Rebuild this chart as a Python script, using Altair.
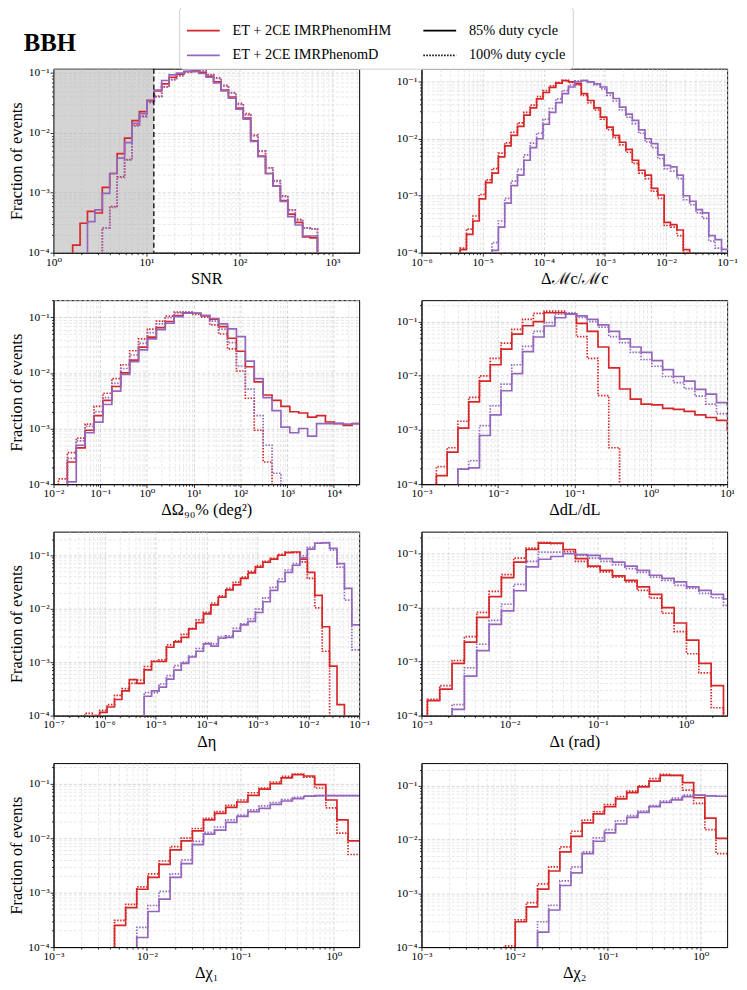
import altair as alt
import numpy as np
import pandas as pd

SERIF = "Liberation Serif, DejaVu Serif, serif"
RED = "#d62728"
PURPLE = "#9467bd"
HM = "ET + 2CE IMRPhenomHM"
PD = "ET + 2CE IMRPhenomD"
D85 = "85% duty cycle"
D100 = "100% duty cycle"
LEGEND_ENTRIES = [HM, PD, D85, D100]
LEGEND_COLORS = [RED, PURPLE, "black", "black"]
Y_MIN = 1e-4

# ---------------- SNR ----------------
SNR_LOG_EDGE0, SNR_LOG_BINW = 0.206, 0.0798
SNR_X = (1.0, 1940.0)
SNR_YMAX = 0.118
SNR_THRESHOLD = 12.0
SNR_HM_85 = [1.34e-4, 3.1e-4, 4.9e-4, 4.6e-4, 1.23e-3, 2.1e-3, 4.5e-3, 8.2e-3, 1.6e-2, 2.27e-2, 3.5e-2, 5.0e-2, 6.6e-2, 8.5e-2, 9.6e-2, 0.106, 0.109, 0.103, 0.088, 0.071, 0.052, 0.0397, 0.026, 0.0176, 0.0074, 0.0041, 0.0021, 0.0013, 7.4e-4, 4.4e-4, 3.2e-4, 1.84e-4, 1.77e-4]
SNR_HM_100 = [0, 0, 0, 0, 2.6e-4, 5.9e-4, 1.85e-3, 3.6e-3, 1.35e-2, 1.9e-2, 3.3e-2, 4.1e-2, 5.9e-2, 7.8e-2, 9.0e-2, 0.102, 0.112, 0.11, 0.094, 0.083, 0.062, 0.047, 0.031, 0.021, 9.2e-3, 5.0e-3, 2.6e-3, 1.6e-3, 8.9e-4, 5.2e-4, 3.6e-4, 2.6e-4, 2.5e-4]
SNR_D_85 = [0, 0, 3.3e-4, 5.2e-4, 9.8e-4, 2.1e-3, 3.8e-3, 6.9e-3, 1.45e-2, 2.1e-2, 3.4e-2, 5.2e-2, 7.5e-2, 9.3e-2, 0.1, 0.107, 0.105, 0.098, 0.085, 0.068, 0.05, 0.038, 0.025, 0.017, 7.2e-3, 4.0e-3, 2.1e-3, 1.3e-3, 7.2e-4, 4.0e-4, 2.9e-4, 1.9e-4, 1.9e-4]
SNR_D_100 = [0, 0, 0, 0, 2.6e-4, 5.7e-4, 1.8e-3, 3.5e-3, 1.3e-2, 1.85e-2, 3.2e-2, 4.0e-2, 5.8e-2, 7.7e-2, 9.0e-2, 0.103, 0.111, 0.108, 0.093, 0.081, 0.061, 0.046, 0.030, 0.020, 8.9e-3, 4.9e-3, 2.6e-3, 1.55e-3, 8.6e-4, 5.1e-4, 3.5e-4, 2.6e-4, 2.5e-4]

# ---------------- chirp mass ----------------
MC_LOG_EDGE0, MC_LOG_BINW = -5.368, 0.1043
MC_X = (1e-6, 1e-1)
MC_YMAX = 0.17
MC_HM_85 = [1.13e-4, 2.1e-4, 3.6e-4, 8.8e-4, 1.7e-3, 2.5e-3, 4.8e-3, 7.5e-3, 1.15e-2, 1.65e-2, 2.6e-2, 3.5e-2, 5.0e-2, 6.5e-2, 8.0e-2, 9.5e-2, 0.105, 0.1, 0.092, 0.062, 0.047, 0.035, 0.024, 0.016, 0.0115, 0.0087, 0.0065, 0.0042, 0.0028, 0.0023, 0.00135, 0.00103, 0.00034, 0.00031, 0.00025, 0.000113, 0, 0, 0, 0, 0, 0]
MC_HM_100 = [1.2e-4, 2.6e-4, 4.4e-4, 1.05e-3, 1.9e-3, 3.0e-3, 5.6e-3, 8.5e-3, 1.3e-2, 1.9e-2, 2.9e-2, 3.9e-2, 5.5e-2, 7.0e-2, 8.5e-2, 0.098, 0.106, 0.098, 0.088, 0.058, 0.043, 0.032, 0.022, 0.0145, 0.0105, 0.0078, 0.0058, 0.0037, 0.0025, 0.002, 0.0012, 0.0009, 0.0003, 0.00028, 0.0002, 0.0001, 0, 0, 0, 0, 0, 0]
MC_D_85 = [0, 0, 0, 0, 0, 1.1e-4, 2.8e-4, 7.4e-4, 1.5e-3, 2.3e-3, 4.2e-3, 7e-3, 1e-2, 1.8e-2, 2.9e-2, 4.3e-2, 6.2e-2, 8.1e-2, 0.1, 0.105, 0.1, 0.092, 0.081, 0.064, 0.051, 0.036, 0.027, 0.021, 0.0143, 0.01, 0.0082, 0.0052, 0.0034, 0.0032, 0.0023, 0.001, 8e-4, 5.7e-4, 5e-4, 2e-4, 1.7e-4, 1.14e-4]
MC_D_100 = [0, 0, 0, 0, 0, 1.5e-4, 3.6e-4, 9e-4, 1.8e-3, 2.9e-3, 5.2e-3, 8.4e-3, 1.25e-2, 2.2e-2, 3.4e-2, 5.0e-2, 7.0e-2, 8.8e-2, 0.104, 0.106, 0.098, 0.088, 0.075, 0.058, 0.046, 0.032, 0.024, 0.0185, 0.0125, 0.0088, 0.007, 0.0045, 0.003, 0.0027, 0.002, 0.00085, 0.0007, 0.0005, 0.0004, 0.00016, 0.00012, 0.0001]

# ---------------- sky area ----------------
SKY_LOG_EDGE0, SKY_LOG_BINW = -1.894, 0.1905
SKY_X = (1e-2, 34900.0)
SKY_YMAX = 0.203
SKY_HM_85 = [0, 2.5e-4, 4.5e-4, 9.3e-4, 1.7e-3, 3.2e-3, 5.7e-3, 1.0e-2, 1.7e-2, 2.9e-2, 4.4e-2, 6.5e-2, 8.4e-2, 0.107, 0.12, 0.118, 0.107, 0.092, 0.068, 0.042, 0.0245, 0.0129, 0.0069, 0.004, 0.0032, 0.0025, 0.002, 0.0019, 0.0016, 0.0017, 0.00131, 0.00122, 0.00114, 0.00122]
SKY_HM_100 = [1.24e-4, 3.7e-4, 6.7e-4, 1.2e-3, 2.5e-3, 4.3e-3, 7.9e-3, 1.4e-2, 2.5e-2, 4.1e-2, 6.1e-2, 8.5e-2, 0.105, 0.124, 0.122, 0.113, 0.1, 0.073, 0.05, 0.027, 0.0108, 0.0035, 9.3e-4, 2.5e-4, 0, 0, 0, 0, 0, 0, 0, 0, 0, 0]
SKY_D_85 = [0, 1.1e-4, 5e-4, 8.4e-4, 1.3e-3, 2.7e-3, 4.7e-3, 9.4e-3, 1.6e-2, 2.6e-2, 4.1e-2, 6e-2, 7.8e-2, 0.103, 0.118, 0.118, 0.107, 0.095, 0.076, 0.062, 0.045, 0.0163, 0.0079, 0.0036, 0.0021, 0.00106, 8.4e-4, 1.0e-3, 7.3e-4, 1.22e-3, 1.22e-3, 1.24e-3, 1.2e-3, 1.22e-3]
SKY_D_100 = [0, 2.9e-4, 6e-4, 1.1e-3, 2.0e-3, 3.6e-3, 6.5e-3, 1.2e-2, 2.1e-2, 3.4e-2, 5.3e-2, 7.6e-2, 9.8e-2, 0.12, 0.125, 0.118, 0.105, 0.085, 0.061, 0.035, 0.0133, 0.0051, 1.7e-3, 5e-4, 1.57e-4, 0, 0, 0, 0, 0, 0, 0, 0, 0]

# ---------------- luminosity distance ----------------
DL_LOG_EDGE0, DL_LOG_BINW = -2.805, 0.141
DL_X = (1e-3, 10.0)
DL_YMAX = 0.249
DL_HM_85 = [1.44e-4, 3.9e-4, 1.08e-3, 3.3e-3, 8e-3, 1.6e-2, 3.1e-2, 5.9e-2, 8.4e-2, 0.1, 0.146, 0.146, 0.138, 0.093, 0.066, 0.034, 0.014, 5.7e-3, 3.7e-3, 3.0e-3, 2.9e-3, 2.5e-3, 2.4e-3, 2.2e-3, 1.9e-3, 1.7e-3, 1.5e-3, 1.0e-3]
DL_HM_100 = [2.1e-4, 4.7e-4, 1.45e-3, 4e-3, 1.0e-2, 2.1e-2, 4e-2, 7.2e-2, 0.11, 0.142, 0.156, 0.156, 0.138, 0.053, 0.021, 4.3e-3, 4.7e-4, 0, 0, 0, 0, 0, 0, 0, 0, 0, 0, 0]
DL_D_85 = [0, 0, 1.9e-4, 2.0e-4, 7.9e-4, 1.9e-3, 5.3e-3, 1.1e-2, 2.8e-2, 5.2e-2, 8.3e-2, 0.118, 0.138, 0.128, 0.11, 0.087, 0.066, 0.048, 0.034, 0.027, 0.019, 0.013, 0.0097, 0.008, 5.6e-3, 4.6e-3, 3.2e-3, 2.8e-3]
DL_D_100 = [0, 0, 1.9e-4, 2.7e-4, 1.2e-3, 2.8e-3, 7e-3, 1.6e-2, 3.5e-2, 6.6e-2, 0.096, 0.138, 0.146, 0.12, 0.1, 0.079, 0.053, 0.041, 0.027, 0.02, 0.015, 0.0097, 0.0075, 0.0058, 4.2e-3, 3.0e-3, 2.0e-3, 1.8e-3]

# ---------------- symmetric mass ratio ----------------
ETA_LOG_EDGE0, ETA_LOG_BINW = -6.385, 0.1456
ETA_X = (1e-7, 1e-1)
ETA_YMAX = 0.277
ETA_HM_85 = [0, 1.0e-4, 1.15e-4, 1.45e-4, 2.0e-4, 2.9e-4, 4.7e-4, 4.0e-4, 7.2e-4, 1.03e-3, 1.03e-3, 1.9e-3, 2.4e-3, 2.9e-3, 4.2e-3, 5.5e-3, 8e-3, 0.0118, 0.0165, 0.0226, 0.028, 0.037, 0.047, 0.06, 0.074, 0.085, 0.1, 0.112, 0.115, 0.085, 0.048, 0.0178, 0.0046, 8.4e-4, 1.6e-4, 0, 0]
ETA_HM_100 = [1.1e-4, 1.0e-4, 1.25e-4, 1.6e-4, 2.4e-4, 3.2e-4, 4.0e-4, 4.6e-4, 8.3e-4, 1.05e-3, 1.1e-3, 2.1e-3, 2.5e-3, 3.3e-3, 4.3e-3, 6.2e-3, 8.6e-3, 0.0128, 0.0175, 0.024, 0.031, 0.039, 0.05, 0.064, 0.077, 0.088, 0.104, 0.115, 0.112, 0.075, 0.037, 0.0104, 0.0016, 0, 0, 0, 0]
ETA_D_85 = [0, 0, 0, 0, 0, 0, 0, 0, 2.3e-4, 2.9e-4, 3.4e-4, 4.8e-4, 7.1e-4, 9.5e-4, 1.25e-3, 1.6e-3, 2.2e-3, 2.0e-3, 2.8e-3, 2.9e-3, 3.8e-3, 5e-3, 5.8e-3, 8.5e-3, 0.0135, 0.022, 0.032, 0.048, 0.065, 0.09, 0.13, 0.168, 0.17, 0.135, 0.07, 0.024, 0.005]
ETA_D_100 = [0, 0, 0, 0, 0, 0, 0, 0, 2.7e-4, 2.7e-4, 3.9e-4, 5.6e-4, 8.6e-4, 1.0e-3, 1.3e-3, 1.8e-3, 2.3e-3, 2.2e-3, 3.0e-3, 3.1e-3, 4.3e-3, 5.2e-3, 6.5e-3, 0.0098, 0.016, 0.025, 0.036, 0.053, 0.07, 0.098, 0.14, 0.17, 0.172, 0.125, 0.06, 0.0145, 0.0017]

# ---------------- inclination ----------------
IOTA_LOG_EDGE0, IOTA_LOG_BINW = -2.933, 0.14
IOTA_X = (1e-3, 2.94)
IOTA_YMAX = 0.257
IOTA_HM_85 = [1.9e-4, 3.1e-4, 9.3e-4, 2.3e-3, 6.6e-3, 1.6e-2, 3.6e-2, 7e-2, 0.12, 0.157, 0.157, 0.12, 0.081, 0.059, 0.049, 0.039, 0.032, 0.0244, 0.0177, 0.01, 0.0052, 0.0025, 9.3e-4, 3.6e-4, 0]
IOTA_HM_100 = [2.0e-4, 3.6e-4, 1.05e-3, 2.9e-3, 8.2e-3, 2e-2, 4.1e-2, 8.3e-2, 0.127, 0.163, 0.153, 0.11, 0.072, 0.057, 0.046, 0.037, 0.03, 0.021, 0.015, 7.9e-3, 3.6e-3, 1.4e-3, 6.2e-4, 1.4e-4, 0]
IOTA_D_85 = [0, 0, 1.3e-4, 5.4e-4, 1.6e-3, 4.9e-3, 8.7e-3, 2.06e-2, 5.7e-2, 7.9e-2, 0.089, 0.1, 0.096, 0.093, 0.081, 0.07, 0.059, 0.049, 0.04, 0.035, 0.03, 0.0244, 0.021, 0.0177, 0.0145]
IOTA_D_100 = [0, 0, 1.6e-4, 7.7e-4, 2.1e-3, 5.8e-3, 1.16e-2, 2.7e-2, 7.2e-2, 0.107, 0.107, 0.103, 0.093, 0.083, 0.072, 0.063, 0.053, 0.045, 0.037, 0.032, 0.026, 0.0228, 0.0184, 0.0153, 0.011]

# ---------------- spin 1 ----------------
CHI1_LOG_EDGE0, CHI1_LOG_BINW = -2.347, 0.119
CHI1_X = (1e-3, 1.866)
CHI1_YMAX = 0.238
CHI1_HM_85 = [2.5e-4, 5.3e-4, 1.15e-3, 1.9e-3, 3.3e-3, 6.1e-3, 8.9e-3, 1.36e-2, 2.16e-2, 2.85e-2, 3.65e-2, 4.6e-2, 6.1e-2, 7.9e-2, 0.1, 0.127, 0.146, 0.138, 0.096, 0.05, 0.0216, 8.9e-3]
CHI1_HM_100 = [3.1e-4, 6.1e-4, 1.27e-3, 2.2e-3, 3.8e-3, 7e-3, 1e-2, 1.5e-2, 2.3e-2, 3.05e-2, 4e-2, 5e-2, 6.8e-2, 8.3e-2, 0.107, 0.136, 0.15, 0.132, 0.083, 0.036, 0.0123, 5e-3]
CHI1_D_85 = [0, 0, 1.5e-4, 4.5e-4, 7.6e-4, 1.9e-3, 3.4e-3, 7.6e-3, 1.18e-2, 1.4e-2, 1.95e-2, 2.5e-2, 3.05e-2, 3.5e-2, 4.15e-2, 4.8e-2, 5.3e-2, 5.9e-2, 6.0e-2, 6.0e-2, 6.0e-2, 6.0e-2]
CHI1_D_100 = [0, 0, 2.3e-4, 5.8e-4, 1.05e-3, 2.2e-3, 4e-3, 8.7e-3, 1.27e-2, 1.6e-2, 2.16e-2, 2.65e-2, 3.3e-2, 3.9e-2, 4.5e-2, 5.1e-2, 5.6e-2, 5.9e-2, 6.0e-2, 6.0e-2, 6.0e-2, 6.0e-2]

# ---------------- spin 2 ----------------
CHI2_LOG_EDGE0, CHI2_LOG_BINW = -2.1125, 0.1198
CHI2_X = (1e-3, 1.921)
CHI2_YMAX = 0.265
CHI2_HM_85 = [0, 2.96e-4, 5.6e-4, 1.2e-3, 2.6e-3, 5.9e-3, 1.15e-2, 2.04e-2, 3.0e-2, 4.1e-2, 5.7e-2, 7.5e-2, 9.6e-2, 0.122, 0.157, 0.157, 0.115, 0.06, 0.025, 1.05e-2]
CHI2_HM_100 = [1.05e-4, 3.2e-4, 6.7e-4, 1.5e-3, 3.1e-3, 7.3e-3, 1.43e-2, 2.3e-2, 3.3e-2, 4.5e-2, 6.3e-2, 8e-2, 0.1, 0.136, 0.164, 0.157, 0.083, 0.047, 0.0153, 5.5e-3]
CHI2_D_85 = [0, 0, 0, 1.9e-4, 4.9e-4, 1.4e-3, 2.4e-3, 5.5e-3, 9.3e-3, 1.33e-2, 1.95e-2, 2.6e-2, 3.2e-2, 4.1e-2, 4.9e-2, 5.5e-2, 6.3e-2, 6.7e-2, 6.5e-2, 6.4e-2]
CHI2_D_100 = [0, 0, 0, 2.96e-4, 6e-4, 1.7e-3, 3.1e-3, 5.9e-3, 1.08e-2, 1.53e-2, 2.24e-2, 2.8e-2, 3.4e-2, 4.3e-2, 5.2e-2, 5.9e-2, 6.7e-2, 6.7e-2, 6.5e-2, 6.4e-2]

PANELS = [
    ("SNR", SNR_LOG_EDGE0, SNR_LOG_BINW, SNR_X, SNR_YMAX, SNR_HM_85, SNR_HM_100, SNR_D_85, SNR_D_100),
    ("Δℳc/ℳc", MC_LOG_EDGE0, MC_LOG_BINW, MC_X, MC_YMAX, MC_HM_85, MC_HM_100, MC_D_85, MC_D_100),
    ("ΔΩ₉₀% (deg²)", SKY_LOG_EDGE0, SKY_LOG_BINW, SKY_X, SKY_YMAX, SKY_HM_85, SKY_HM_100, SKY_D_85, SKY_D_100),
    ("ΔdL/dL", DL_LOG_EDGE0, DL_LOG_BINW, DL_X, DL_YMAX, DL_HM_85, DL_HM_100, DL_D_85, DL_D_100),
    ("Δη", ETA_LOG_EDGE0, ETA_LOG_BINW, ETA_X, ETA_YMAX, ETA_HM_85, ETA_HM_100, ETA_D_85, ETA_D_100),
    ("Δι (rad)", IOTA_LOG_EDGE0, IOTA_LOG_BINW, IOTA_X, IOTA_YMAX, IOTA_HM_85, IOTA_HM_100, IOTA_D_85, IOTA_D_100),
    ("Δχ₁", CHI1_LOG_EDGE0, CHI1_LOG_BINW, CHI1_X, CHI1_YMAX, CHI1_HM_85, CHI1_HM_100, CHI1_D_85, CHI1_D_100),
    ("Δχ₂", CHI2_LOG_EDGE0, CHI2_LOG_BINW, CHI2_X, CHI2_YMAX, CHI2_HM_85, CHI2_HM_100, CHI2_D_85, CHI2_D_100),
]

PANEL_W, PANEL_H = 309, 186
FLOOR = 1e-7  # below the visible axis range: where empty bins sit

SUP = {"-": "⁻", "0": "⁰", "1": "¹", "2": "²", "3": "³", "4": "⁴",
       "5": "⁵", "6": "⁶", "7": "⁷", "8": "⁸", "9": "⁹"}
LOGV = "(log(datum.value) / LN10)"
IS_MAJOR = f"abs({LOGV} - round({LOGV})) < 0.001"
LABEL_EXPR = (IS_MAJOR + " ? (" +
              " : ".join(f"round({LOGV}) == {e} ? '10{''.join(SUP[c] for c in str(e))}'" for e in range(-9, 7)) +
              " : '') : ''")


def log_ticks(lo, hi):
    out = []
    for e in range(-9, 7):
        for m in range(1, 10):
            v = m * 10.0 ** e
            if lo * 0.9999 <= v <= hi * 1.0001:
                out.append(v)
    return out


def make_axis(values, title_pad, label_pad):
    return alt.Axis(
        values=values, labelExpr=LABEL_EXPR, labelOverlap=False, labelFlush=False,
        grid=True,
        gridColor={"condition": {"test": IS_MAJOR, "value": "#c2c2c2"}, "value": "#dddddd"},
        gridDash=[3, 2], gridWidth=0.7,
        tickSize={"condition": {"test": IS_MAJOR, "value": 3.5}, "value": 2},
        tickColor="black", tickWidth=0.8, domainColor="black",
        labelFont=SERIF, labelFontSize=11.5, labelColor="black", labelPadding=label_pad,
        titleFont=SERIF, titleFontSize=16.5, titleFontWeight="normal", titleColor="black",
        titlePadding=title_pad,
    )


def step_rows(edges, vals, model, duty, xmax):
    v = [x if x > 0 else FLOOR for x in vals]
    pts = [(edges[0], FLOOR)]
    for k, val in enumerate(v):
        pts.append((edges[k], val))
        pts.append((edges[k + 1], val))
    if edges[-1] < xmax * 0.999:
        pts.append((edges[-1], FLOOR))
    return [{"x": px, "y": py, "model": model, "duty": duty, "i": j} for j, (px, py) in enumerate(pts)]


LEGEND = alt.Legend(
    title=None, orient="none", legendX=127, legendY=-63, columns=2,
    columnPadding=28, rowPadding=1, padding=7, cornerRadius=4,
    strokeColor="#cfcfcf", fillColor="white",
    symbolType="stroke", symbolSize=1100, symbolStrokeWidth=1.8,
    symbolDash={"expr": "datum.value == '100% duty cycle' ? [1.5, 1.5] : [1, 0]"},
    labelFont=SERIF, labelFontSize=14.5, labelColor="black", labelOffset=12, labelLimit=400,
)


def panel_chart(idx):
    title, e0, w, (xlo, xhi), ymax, hm85, hm100, d85, d100 = PANELS[idx]
    n = len(hm85)
    edges = 10.0 ** (e0 + w * np.arange(n + 1))
    rows = []
    for vals, model, duty in [(hm85, HM, D85), (hm100, HM, D100), (d85, PD, D85), (d100, PD, D100)]:
        rows += step_rows(edges, vals, model, duty, xhi)
    df = pd.DataFrame(rows)
    xenc = alt.X("x:Q", scale=alt.Scale(type="log", domain=[xlo, xhi], nice=False),
                 axis=make_axis(log_ticks(xlo, xhi), 3, 0), title=title)
    yenc = alt.Y("y:Q", scale=alt.Scale(type="log", domain=[Y_MIN, ymax], nice=False),
                 axis=make_axis(log_ticks(Y_MIN, ymax), 3, 1),
                 title="Fraction of events" if idx % 2 == 0 else "")
    lines = alt.Chart(df).mark_line(clip=True, strokeWidth=1.7, strokeJoin="miter").encode(
        x=xenc, y=yenc,
        color=alt.Color("model:N", scale=alt.Scale(domain=LEGEND_ENTRIES, range=LEGEND_COLORS), legend=LEGEND),
        strokeDash=alt.StrokeDash("duty:N", scale=alt.Scale(domain=[D85, D100], range=[[1, 0], [1.5, 1.5]]), legend=None),
        order=alt.Order("i:Q"),
    )
    if idx == 0:
        shade = alt.Chart(pd.DataFrame({"x": [xlo], "x2": [SNR_THRESHOLD]})).mark_rect(
            color="#b0b0b0", opacity=0.55).encode(x=xenc, x2="x2:Q")
        rule = alt.Chart(pd.DataFrame({"x": [SNR_THRESHOLD]})).mark_rule(
            color="black", strokeDash=[5, 3], strokeWidth=1.3).encode(x=xenc)
        ch = alt.layer(shade, lines, rule)
        return ch.properties(width=PANEL_W, height=PANEL_H,
                             title=alt.TitleParams("BBH", anchor="start", frame="group", dx=-30, offset=11,
                                                   fontSize=25, font=SERIF, fontWeight="bold", color="black"))
    return lines.properties(width=PANEL_W, height=PANEL_H)


chart = alt.concat(*[panel_chart(i) for i in range(8)], columns=2,
                   spacing={"row": 48, "column": 63}, bounds="flush").properties(
    padding={"left": 0, "top": -8, "right": 0, "bottom": 0}
).configure_view(stroke="black", strokeWidth=1)

chart.save("out.html", embed_options={"renderer": "svg", "actions": False})
